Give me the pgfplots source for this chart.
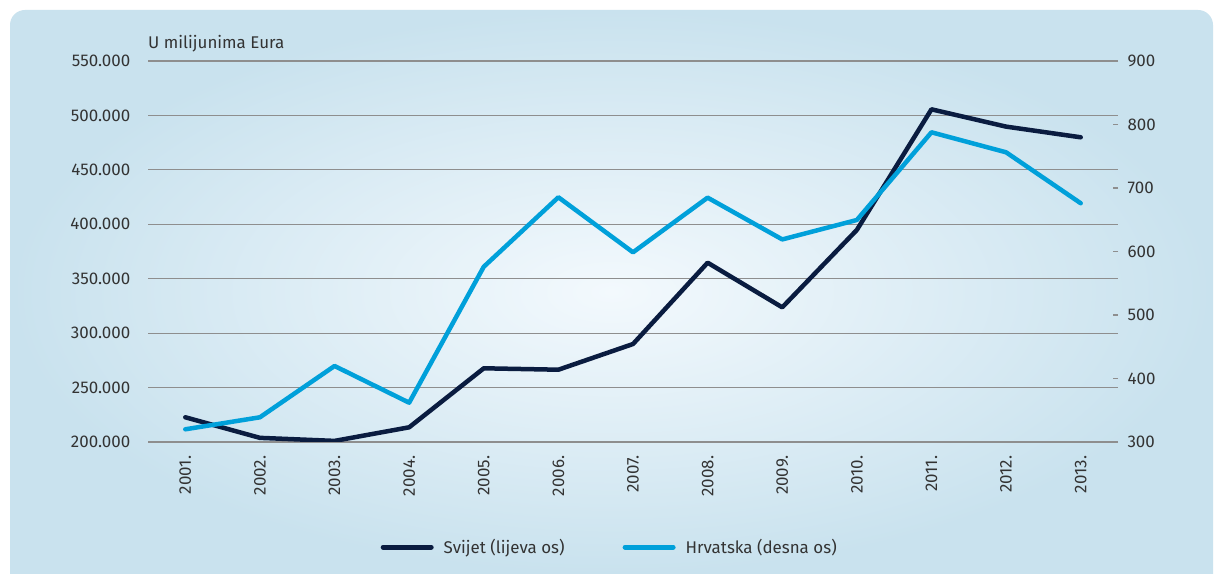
\documentclass[border=0pt]{standalone}
\usepackage{fontspec}
\setmainfont{Fira Sans}
\usepackage{pgfplots}
\pgfplotsset{compat=1.18}
\definecolor{navy}{HTML}{0A1C40}
\definecolor{sky}{HTML}{00A0DA}
\definecolor{txt}{HTML}{333333}
\definecolor{bgout}{HTML}{C9E2EE}
\definecolor{bgin}{HTML}{F3F9FD}
\definecolor{gridc}{HTML}{8E8E8E}
\begin{document}
\begin{tikzpicture}[x=1bp,y=1bp]
\fill[white] (0,0) rectangle (1214,574);
\shade[inner color=bgin, outer color=bgout] (10,0) [rounded corners=15bp]-- (10,564) -- (1213,564) [sharp corners]-- (1213,0) -- cycle;
\pgfplotsset{
  common/.style={
    at={(148bp,132bp)}, anchor=south west, scale only axis,
    width=970bp, height=381bp,
    xmin=-0.5, xmax=12.5,
    scaled y ticks=false,
    /pgf/number format/assume math mode=true,
    font=\fontsize{17}{20}\selectfont\color{txt},
    tick label style={font=\fontsize{17}{20}\selectfont\color{txt}},
  }
}
\begin{axis}[common,
  ymin=200000, ymax=550000,
  ytick={200000,250000,300000,350000,400000,450000,500000,550000},
  yticklabels={200.000,250.000,300.000,350.000,400.000,450.000,500.000,550.000},
  xtick={0,...,12},
  xticklabels={2001.,2002.,2003.,2004.,2005.,2006.,2007.,2008.,2009.,2010.,2011.,2012.,2013.},
  minor xtick={-0.5,0.5,...,12.5},
  axis x line*=bottom, axis y line*=left,
  x axis line style={gridc, line width=1.6bp, -},
  y axis line style={draw=none},
  ytick style={draw=none},
  xtick style={draw=none},
  minor x tick style={gridc, line width=1.6bp},
  tick align=outside, minor tick length=6bp,
  ymajorgrids, grid style={gridc, line width=1.1bp},
  xticklabel style={rotate=90, anchor=east, xshift=-6bp},
  yticklabel style={anchor=east, xshift=-10bp},
  legend style={at={(0.476,-0.276)}, anchor=center, draw=none, fill=none,
    legend columns=2, font=\fontsize{17}{20}\selectfont\color{txt},
    /tikz/every odd column/.append style={column sep=8bp},
    /tikz/every even column/.append style={column sep=56bp}},
  legend cell align=left,
  legend image code/.code={\draw[#1, line width=5bp, line cap=round] (0bp,0bp) -- (48bp,0bp);},
]
\addplot[navy, line width=4.5bp, line join=round, line cap=round] coordinates {
(0,222700) (1,203800) (2,201000) (3,213500) (4,267700) (5,266400) (6,290000)
(7,364700) (8,323700) (9,394800) (10,505600) (11,489700) (12,479900)};
\addlegendentry{Svijet (lijeva os)}
\addlegendimage{sky}
\addlegendentry{Hrvatska (desna os)}
\end{axis}
\begin{axis}[common,
  ymin=300, ymax=900,
  ytick={300,400,500,600,700,800,900},
  axis x line=none, axis y line*=right,
  y axis line style={draw=none},
  ytick style={gridc, line width=1.1bp},
  tick align=inside, major tick length=5bp,
  yticklabel style={anchor=west, xshift=6bp},
]
\addplot[sky, line width=4.5bp, line join=round, line cap=round] coordinates {
(0,320) (1,338.9) (2,419.7) (3,361.9) (4,576) (5,685.4) (6,598.7)
(7,684.8) (8,619) (9,649.6) (10,787.7) (11,756.2) (12,676)};
\end{axis}
\node[anchor=south west, inner sep=0pt, font=\fontsize{17}{20}\selectfont, text=txt] at (148,522) {U milijunima Eura};
\end{tikzpicture}
\end{document}
